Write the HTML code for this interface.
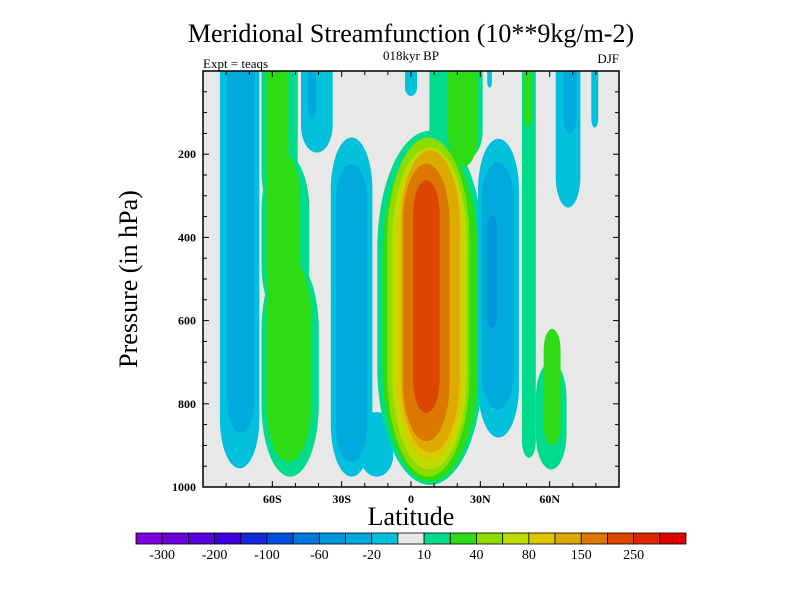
<!DOCTYPE html>
<html><head><meta charset="utf-8"><style>
html,body{margin:0;padding:0;background:#fff;}
svg{display:block;}
text{font-family:"Liberation Serif",serif;fill:#000;}
</style></head><body>
<svg id="chart" width="800" height="600" viewBox="0 0 800 600">
<text x="411" y="42" text-anchor="middle" font-size="26">Meridional Streamfunction (10**9kg/m-2)</text>
<text x="411" y="60" text-anchor="middle" font-size="13">018kyr BP</text>
<text x="203" y="68" font-size="13">Expt = teaqs</text>
<text x="619" y="63" text-anchor="end" font-size="13">DJF</text>
<text transform="translate(137,279) rotate(-90)" text-anchor="middle" font-size="26">Pressure (in hPa)</text>
<text x="411" y="525" text-anchor="middle" font-size="26">Latitude</text>
<g id="plot"></g>
<g id="axes"></g>
<g id="cbar"></g>
</svg>
<script>
// contour levels and colors
const levelBounds = [-300,-250,-200,-150,-100,-80,-60,-40,-20,-10,10,20,40,60,80,100,150,200,250,300];
const levelColors = ["#7f00dc","#6c00dc","#5a00dc","#3c00dc","#1428dc","#0050dc","#0078dc","#0096dc","#00aadc","#00c0dc","#e8e8e8","#00dc8c","#2ddc14","#8cdc00","#bedc00","#dcc800","#dcaa00","#dc7800","#dc4600","#dc2800","#dc0000"];
const cbarLabels = ["-300","-200","-100","-60","-20","10","40","80","150","250"];
const xTickLats = [-60,-30,0,30,60];
const xTickLabels = ["60S","30S","0","30N","60N"];
const yTickVals = [200,400,600,800,1000];
// contour regions: level value, lat west, lat east, pressure top, pressure bottom
const cLevel = [-10,-20, 10,10,10,20,20,20, -10,-20, -10,-10,-20, 10,10,20,20,40,60,80,100,150,200, -10,-20,-40, 10,10,20,20, -10,-20,-10, -10,-10];
const cLatW  = [-82.7,-79.7, -64.7,-64.7,-64.7,-62.6,-62.6,-62.6, -47.6,-44.6, -34.7,-22,-32.6, -14.6,8,-12.4,16,-10.3,-8.1,-6,-4.3,-3.4,0.9, 29,30.4,33, 48,54,49,57.4, 62.6,66,78, -2.6,33];
const cLatE  = [-65.6,-67.7, -49,-44,-39.9,-53,-48,-43.3, -33.9,-41, -16.7,-7.7,-18.9, 31,31,29,29,25.3,24,22.3,21,16.7,12.4, 46.7,44.6,37.3, 54,67.3,52,64.7, 73.3,71.7,81, 2.6,35];
const cPTop  = [0,0, 0,200,450,0,200,450, 0,0, 160,820,223, 144,0,170,0,160,184,199,190,223,263, 163,220,347, 0,700,0,620, 0,0,0, 0,0];
const cPBot  = [955,870, 350,600,975,350,600,940, 196,112, 975,975,941, 995,220,987,230,975,958,934,917,890,822, 881,814,618, 930,958,136,900, 328,150,136, 60,40];

const X0=203,X1=619,Y0=71,Y1=487;
const xScale = lat => X0 + (lat+90)/180*(X1-X0);
const yScale = p => Y0 + p/1000*(Y1-Y0);
const NS="http://www.w3.org/2000/svg";
function mk(tag, attrs, parent){const e=document.createElementNS(NS,tag);for(const k in attrs)e.setAttribute(k,attrs[k]);parent.appendChild(e);return e;}
function colorFor(v){let i=0;while(i<levelBounds.length&&v>levelBounds[i])i++;if(v>0&&levelBounds[i]===v)i++;return levelColors[i];}
const plot=document.getElementById('plot');
const bg=mk('rect',{x:X0,y:Y0,width:X1-X0,height:Y1-Y0,fill:"#e8e8e8"},plot);


const order=cLevel.map((v,i)=>i).sort((a,b)=>Math.abs(cLevel[a])-Math.abs(cLevel[b]));
const clip=mk('clipPath',{id:'pc'},mk('defs',{},plot));
mk('rect',{x:X0,y:Y0,width:X1-X0,height:Y1-Y0},clip);
const cg=mk('g',{'clip-path':'url(#pc)'},plot);
order.forEach(i=>{
  const x=xScale(cLatW[i]),w=xScale(cLatE[i])-x,y=yScale(cPTop[i]),h=yScale(cPBot[i])-y;
  const rx=Math.min(w/2,h/4), ry=Math.min(rx*2.5,h/3);
  const ext=cPTop[i]===0?ry:0;
  const el=mk('rect',{x:x,y:y-ext,width:w,height:h+ext,rx:rx,ry:ry,fill:colorFor(cLevel[i])},cg);
  
  
});
const ax=document.getElementById('axes');
const frame=mk('rect',{x:X0,y:Y0,width:X1-X0,height:Y1-Y0,fill:"none",stroke:"#000","stroke-width":1.5},ax);


for(let lat=-80;lat<=80;lat+=10){const x=xScale(lat),L=(lat%30===0)?6:4;
  mk('line',{x1:x,x2:x,y1:Y1,y2:Y1-L,stroke:"#000"},ax);mk('line',{x1:x,x2:x,y1:Y0,y2:Y0+L,stroke:"#000"},ax);}
for(let p=50;p<1000;p+=50){const y=yScale(p),L=(p%200===0)?6:4;
  mk('line',{x1:X0,x2:X0+L,y1:y,y2:y,stroke:"#000"},ax);mk('line',{x1:X1,x2:X1-L,y1:y,y2:y,stroke:"#000"},ax);}
xTickLats.forEach((lat,i)=>{const t=mk('text',{x:xScale(lat),y:503,'text-anchor':'middle','font-size':12,'font-weight':'bold'},ax);t.textContent=xTickLabels[i];
  
  });
yTickVals.forEach(v=>{const t=mk('text',{x:196,y:yScale(v)+4,'text-anchor':'end','font-size':12,'font-weight':'bold'},ax);t.textContent=v;
  
  });
const cb=document.getElementById('cbar');const CX0=136,CX1=686,CY=533,CH=11,bw=(CX1-CX0)/levelColors.length;
levelColors.forEach((c,i)=>{const r=mk('rect',{x:CX0+i*bw,y:CY,width:bw,height:CH,fill:c,stroke:"#000","stroke-width":0.8},cb);
  
  });
cbarLabels.forEach((s,i)=>{const t=mk('text',{x:CX0+(1+2*i)*bw,y:CY+CH+15,'text-anchor':'middle','font-size':14},cb);t.textContent=s;
  
  });
</script>
</body></html>
